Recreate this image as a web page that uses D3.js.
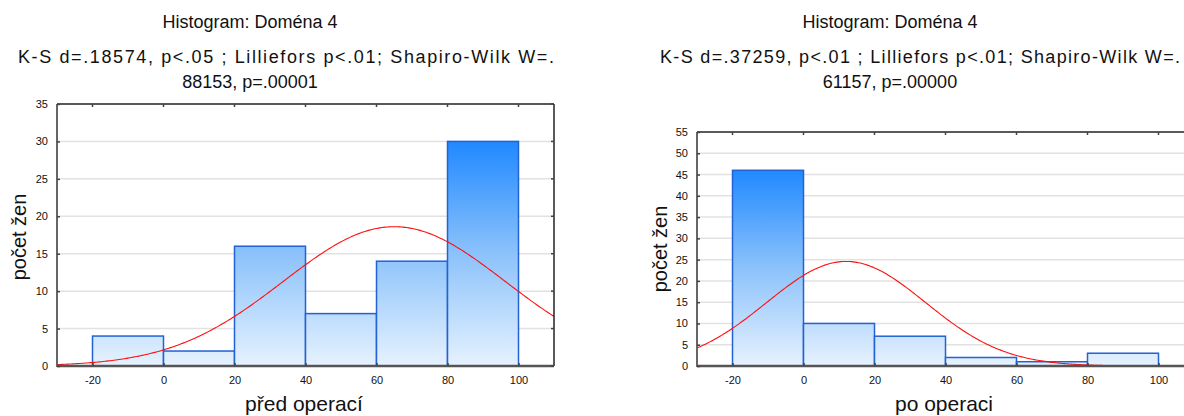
<!DOCTYPE html>
<html>
<head>
<meta charset="utf-8">
<script src="https://cdn.jsdelivr.net/npm/d3@7"></script>
<style>
  html, body { margin: 0; padding: 0; background: #fff; }
  svg { display: block; font-family: "Liberation Sans", Arial, sans-serif; }
</style>
</head>
<body>
<svg id="chart" width="1184" height="416"></svg>
<script>
// Bin edges shared by both histograms
const binEdges = [-20, 0, 20, 40, 60, 80, 100];
const xTicks = [-20, 0, 20, 40, 60, 80, 100];

// Domain 4 scores before surgery
const countsBefore = [4, 2, 16, 7, 14, 30];
const fitBefore = { mean: 65, sd: 31.3 };
const yTicksBefore = [0, 5, 10, 15, 20, 25, 30, 35];

// Domain 4 scores after surgery
const countsAfter = [46, 10, 7, 2, 1, 3];
const fitAfter = { mean: 12, sd: 22.4 };
const yTicksAfter = [0, 5, 10, 15, 20, 25, 30, 35, 40, 45, 50, 55];

const titleMain = "Histogram: Doména 4";
const titleBefore = ["K-S d=.18574, p<.05 ; Lilliefors p<.01; Shapiro-Wilk W=.", "88153, p=.00001"];
const titleAfter = ["K-S d=.37259, p<.01 ; Lilliefors p<.01; Shapiro-Wilk W=.", "61157, p=.00000"];

const svg = d3.select("#chart");
const defs = svg.append("defs");
const fmt = d => String(d);

function histogram(cfg) {
  const x = d3.scaleLinear().domain([-30, 110]).range([cfg.left, cfg.right]);
  const y = d3.scaleLinear().domain([0, cfg.yMax]).range([cfg.bottom, cfg.top]);
  const g = svg.append("g");

  // clip for the plot area
  defs.append("clipPath").attr("id", cfg.id + "-clip")
    .append("rect")
    .attr("x", cfg.left).attr("y", cfg.top)
    .attr("width", cfg.right - cfg.left).attr("height", cfg.bottom - cfg.top);

  // vertical gradient anchored to the plot: tallest bar reaches the saturated blue
  const maxCount = d3.max(cfg.counts);
  const grad = defs.append("linearGradient").attr("id", cfg.id + "-grad")
    .attr("gradientUnits", "userSpaceOnUse")
    .attr("x1", 0).attr("x2", 0)
    .attr("y1", y(maxCount)).attr("y2", y(0));
  grad.append("stop").attr("offset", 0).attr("stop-color", "#2089ff");
  grad.append("stop").attr("offset", 0.5).attr("stop-color", "#8cc2fb");
  grad.append("stop").attr("offset", 1).attr("stop-color", "#e6f2fe");

  // horizontal grid
  g.append("g").selectAll("line")
    .data(cfg.yTicks.filter(d => d > 0 && d < cfg.yMax))
    .join("line")
    .attr("x1", cfg.left).attr("x2", cfg.right)
    .attr("y1", d => y(d)).attr("y2", d => y(d))
    .attr("stroke", "#e2e2e2").attr("stroke-width", 1.5);

  // bars
  const bins = cfg.counts.map((c, i) => ({ x0: binEdges[i], x1: binEdges[i + 1], n: c }));
  g.append("g").attr("clip-path", `url(#${cfg.id}-clip)`)
    .selectAll("rect").data(bins).join("rect")
    .attr("x", d => x(d.x0))
    .attr("y", d => y(d.n))
    .attr("width", d => x(d.x1) - x(d.x0))
    .attr("height", d => y(0) - y(d.n))
    .attr("fill", `url(#${cfg.id}-grad)`)
    .attr("stroke", "#2262d4").attr("stroke-width", 1.5);

  // fitted normal curve scaled to counts per bin
  const total = d3.sum(cfg.counts);
  const binW = binEdges[1] - binEdges[0];
  const xs = d3.range(-30, 110.01, 0.5);
  const pdf = v => Math.exp(-0.5 * Math.pow((v - cfg.fit.mean) / cfg.fit.sd, 2)) / (cfg.fit.sd * Math.sqrt(2 * Math.PI));
  const line = d3.line().x(d => x(d)).y(d => y(total * binW * pdf(d)));
  g.append("path").datum(xs)
    .attr("clip-path", `url(#${cfg.id}-clip)`)
    .attr("d", line)
    .attr("fill", "none").attr("stroke", "#ff1010").attr("stroke-width", 1.1);

  // frame: top and right thin black, left and bottom heavier gray
  g.append("line").attr("x1", cfg.left).attr("x2", cfg.right).attr("y1", cfg.top).attr("y2", cfg.top)
    .attr("stroke", "#222").attr("stroke-width", 1.5);
  g.append("line").attr("x1", cfg.right).attr("x2", cfg.right).attr("y1", cfg.top).attr("y2", cfg.bottom)
    .attr("stroke", "#222").attr("stroke-width", 1.5);
  g.append("line").attr("x1", cfg.left).attr("x2", cfg.left).attr("y1", cfg.top).attr("y2", cfg.bottom + 1)
    .attr("stroke", "#666").attr("stroke-width", 2);
  g.append("line").attr("x1", cfg.left).attr("x2", cfg.right).attr("y1", cfg.bottom).attr("y2", cfg.bottom)
    .attr("stroke", "#555").attr("stroke-width", 2.5);

  // axes with small inward ticks
  const xAxis = d3.axisBottom(x).tickValues(xTicks).tickSize(-3).tickPadding(10).tickFormat(fmt);
  const yAxis = d3.axisLeft(y).tickValues(cfg.yTicks).tickSize(-3).tickPadding(9).tickFormat(fmt);
  const xa = g.append("g").attr("transform", `translate(0,${cfg.bottom})`).call(xAxis);
  const ya = g.append("g").attr("transform", `translate(${cfg.left},0)`).call(yAxis);
  [xa, ya].forEach(a => {
    a.select(".domain").remove();
    a.selectAll(".tick line").attr("stroke", "#444").attr("stroke-width", 1.5);
    a.selectAll(".tick text").attr("fill", "#111").attr("font-size", 11)
      .attr("font-family", '"Liberation Sans", Arial, sans-serif');
  });
  // mirrored ticks on top and right edges
  g.append("g").selectAll("line").data(xTicks).join("line")
    .attr("x1", d => x(d)).attr("x2", d => x(d)).attr("y1", cfg.top).attr("y2", cfg.top + 3)
    .attr("stroke", "#444").attr("stroke-width", 1.5);
  g.append("g").selectAll("line").data(cfg.yTicks).join("line")
    .attr("x1", cfg.right).attr("x2", cfg.right - 3).attr("y1", d => y(d)).attr("y2", d => y(d))
    .attr("stroke", "#444").attr("stroke-width", 1.5);

  // titles
  const t = g.append("g").attr("fill", "#111").attr("font-size", 18).attr("text-anchor", "middle");
  t.append("text").attr("x", cfg.titleX).attr("y", 28).text(titleMain);
  t.append("text").attr("x", cfg.sub1X).attr("y", 63)
    .attr("textLength", cfg.sub1W).attr("lengthAdjust", "spacing").text(cfg.sub[0]);
  t.append("text").attr("x", cfg.titleX).attr("y", 88).text(cfg.sub[1]);

  // axis titles
  g.append("text").attr("x", cfg.xLabelX).attr("y", 411)
    .attr("text-anchor", "middle").attr("font-size", 21).attr("fill", "#111").text(cfg.xLabel);
  g.append("text")
    .attr("transform", `translate(${cfg.yLabelX},${cfg.yLabelY}) rotate(-90)`)
    .attr("text-anchor", "middle").attr("font-size", 20).attr("fill", "#111").text("počet žen");
}

histogram({
  id: "before", left: 57, right: 554, top: 104, bottom: 366, yMax: 35,
  counts: countsBefore, fit: fitBefore, yTicks: yTicksBefore,
  titleX: 250, sub1X: 286, sub1W: 536, sub: titleBefore,
  xLabel: "před operací", xLabelX: 304, yLabelX: 26, yLabelY: 237
});

histogram({
  id: "after", left: 697, right: 1194, top: 132, bottom: 366, yMax: 55,
  counts: countsAfter, fit: fitAfter, yTicks: yTicksAfter,
  titleX: 890, sub1X: 920, sub1W: 520, sub: titleAfter,
  xLabel: "po operaci", xLabelX: 944, yLabelX: 667, yLabelY: 249
});
</script>
</body>
</html>
